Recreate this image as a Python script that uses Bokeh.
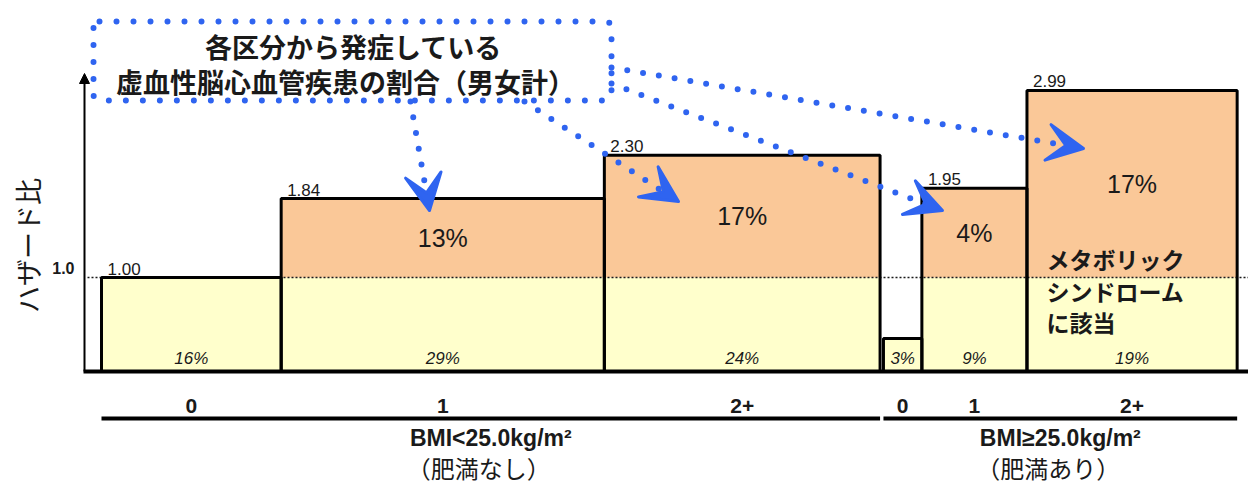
import numpy as np
from bokeh.plotting import figure
from bokeh.models import Range1d, ColumnDataSource, Arrow, VeeHead, NormalHead, BoxAnnotation
from bokeh.core.properties import value
from bokeh.embed import file_html
from bokeh.resources import INLINE

# ---------------- data ----------------
categories = ["0", "1", "2+", "0", "1", "2+"]
groups = ["BMI<25.0kg/m²", "BMI≥25.0kg/m²"]
group_notes = ["（肥満なし）", "（肥満あり）"]
group_of_bar = [0, 0, 0, 1, 1, 1]
population_share = [15.9, 28.6, 24.4, 3.4, 9.3, 18.6]
population_share_labels = ["16%", "29%", "24%", "3%", "9%", "19%"]
hazard_ratio = [1.00, 1.84, 2.30, 0.35, 1.95, 2.99]
hazard_ratio_labels = ["1.00", "1.84", "2.30", "", "1.95", "2.99"]
case_share_labels = ["", "13%", "17%", "", "4%", "17%"]
y_ticks = [1.0]
y_tick_labels = ["1.0"]
title_lines = ["各区分から発症している", "虚血性脳心血管疾患の割合（男女計）"]
metabo_lines = ["メタボリック", "シンドローム", "に該当"]
y_title = "ハザード比"

# ---------------- layout ----------------
W, H = 1248, 485
X0, SX = 101.0, 11.3      # pixel of x=0, pixels per percent
Y0, SY = 371.0, 94.0      # pixel of y=0, pixels per hazard unit
GROUP_GAP = 0.3

YELLOW = "#FFFFCC"
ORANGE = "#FAC898"
BLUE = "#2F64F0"
INK = "#1a1a1a"
SANS = value("Liberation Sans")
CJK = value("Noto Sans CJK JP")


def px(x):
    return (x - X0) / SX


def py(y):
    return (Y0 - y) / SY


lefts, rights = [], []
cur, prev_g = 0.0, group_of_bar[0]
for share, g in zip(population_share, group_of_bar):
    if g != prev_g:
        cur += GROUP_GAP
    lefts.append(cur)
    cur += share
    rights.append(cur)
    prev_g = g
lefts = np.array(lefts)
rights = np.array(rights)
hr = np.array(hazard_ratio)
centers = (lefts + rights) / 2

p = figure(width=W, height=H,
           x_range=Range1d(-X0 / SX, (W - X0) / SX),
           y_range=Range1d(-(H - Y0) / SY, Y0 / SY),
           x_axis_location=None, y_axis_location=None,
           toolbar_location=None, output_backend="svg", min_border=0)
p.grid.grid_line_color = None
p.outline_line_color = None
p.background_fill_color = "white"

# fills
p.quad(left=lefts, right=rights, bottom=0, top=np.minimum(hr, 1.0),
       fill_color=YELLOW, line_color=None)
over = hr > 1.0
p.quad(left=lefts[over], right=rights[over], bottom=1.0, top=hr[over],
       fill_color=ORANGE, line_color=None)

# dotted reference line at the tick
p.segment(x0=[px(87)], y0=y_ticks, x1=[px(W)], y1=y_ticks,
          line_color=INK, line_width=1.5, line_dash="2 2")

# bar outlines
p.quad(left=lefts, right=rights, bottom=0, top=hr,
       fill_color=None, line_color="black", line_width=3)

# baseline
p.segment(x0=[px(83)], y0=[0], x1=[px(W)], y1=[0], line_color="black", line_width=4)

# y axis arrow
p.add_layout(Arrow(end=NormalHead(size=10, fill_color="black", line_color="black"),
                   x_start=px(84), y_start=0, x_end=px(84), y_end=py(73),
                   line_color="black", line_width=2))

# y tick label and title
p.text(x=[px(74)] * len(y_ticks), y=[t + 4 / SY for t in y_ticks], text=y_tick_labels,
       text_font=SANS, text_font_size="16px", text_font_style="bold",
       text_align="right", text_baseline="bottom", text_color=INK)
p.text(x=[px(27)], y=[py(245)], text=[y_title], angle=np.pi / 2,
       text_font=CJK, text_font_size="27px", text_align="center",
       text_baseline="middle", text_color=INK)

# hazard ratio labels above bars
src_hr = ColumnDataSource(dict(x=lefts + 6 / SX, y=hr + 3 / SY, t=hazard_ratio_labels))
p.text(x="x", y="y", text="t", source=src_hr, text_font=SANS, text_font_size="17px",
       text_align="left", text_baseline="bottom", text_color=INK)

# case share labels in orange parts
src_cs = ColumnDataSource(dict(x=centers, y=(np.maximum(hr, 1.0) + 1.0) / 2, t=case_share_labels))
p.text(x="x", y="y", text="t", source=src_cs, text_font=SANS, text_font_size="25px",
       text_align="center", text_baseline="middle", text_color=INK)

# population share labels (italic) at bottom
src_ps = ColumnDataSource(dict(x=centers, y=[py(358)] * len(centers), t=population_share_labels))
p.text(x="x", y="y", text="t", source=src_ps, text_font=SANS, text_font_size="17px",
       text_font_style="italic", text_align="center", text_baseline="middle", text_color=INK)

# category labels
src_cat = ColumnDataSource(dict(x=centers, y=[py(405)] * len(centers), t=categories))
p.text(x="x", y="y", text="t", source=src_cat, text_font=SANS, text_font_size="21px",
       text_font_style="bold", text_align="center", text_baseline="middle", text_color=INK)

# group lines and labels
g_idx = np.array(group_of_bar)
g_left = [lefts[g_idx == g].min() for g in range(len(groups))]
g_right = [rights[g_idx == g].max() for g in range(len(groups))]
g_center = [(a + b) / 2 for a, b in zip(g_left, g_right)]
p.segment(x0=g_left, y0=[py(418)] * len(groups), x1=g_right, y1=[py(418)] * len(groups),
          line_color="black", line_width=4)
p.text(x=g_center, y=[py(437)] * len(groups), text=groups, text_font=SANS,
       text_font_size="23px", text_font_style="bold", text_align="center",
       text_baseline="middle", text_color=INK)
p.text(x=[c - 12 / SX for c in g_center], y=[py(467)] * len(groups), text=group_notes,
       text_font=CJK, text_font_size="24px", text_align="center",
       text_baseline="middle", text_color=INK)

# metabolic syndrome note
p.text(x=[px(1046)] * 3, y=[py(258), py(290), py(321)], text=metabo_lines,
       text_font=CJK, text_font_size="23px", text_font_style="bold",
       text_align="left", text_baseline="middle", text_color=INK)

# dotted arrows
arrow_paths = [((410, 101), (429, 210)),
               ((524, 101), (678, 201)),
               ((611, 83), (942, 210)),
               ((611, 67), (1083, 148))]
for (xs, ys), (xe, ye) in arrow_paths:
    p.add_layout(Arrow(end=VeeHead(size=36, fill_color=BLUE, line_color=BLUE, line_width=3,
                                   line_join="round"),
                       x_start=px(xs), y_start=py(ys), x_end=px(xe), y_end=py(ye),
                       line_color=BLUE, line_width=6, line_dash="0 16", line_cap="round"))

# dotted title box
p.add_layout(BoxAnnotation(left=px(93), right=px(611), top=py(21), bottom=py(100),
                           fill_color=None, fill_alpha=0, line_color=BLUE, line_alpha=1.0,
                           line_width=6, line_dash="0 17", line_cap="round", border_radius=6))
p.text(x=[px(353), px(345)], y=[py(46), py(81)], text=title_lines,
       text_font=CJK, text_font_size="27px", text_font_style="bold",
       text_align="center", text_baseline="middle", text_color=INK)

open("out.html", "w").write(file_html(p, INLINE))
